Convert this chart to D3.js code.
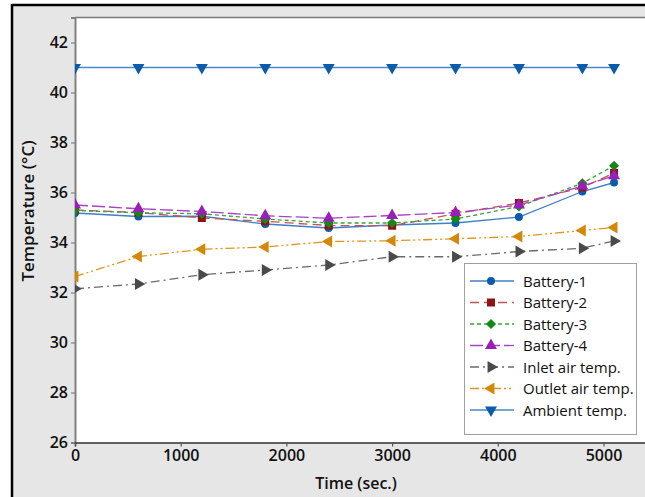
<!DOCTYPE html>
<html><head><meta charset="utf-8">
<script src="https://cdn.jsdelivr.net/npm/d3@7"></script>
<style>html,body{margin:0;padding:0;background:#fff;}svg{display:block;}</style>
</head><body>
<svg id="c" width="645" height="497"></svg>
<script>
const times = [0,600,1200,1800,2400,3000,3600,4200,4800,5100];
const battery1 = [35.18,35.04,35.05,34.74,34.58,34.70,34.78,35.02,36.04,36.40];
const battery2 = [35.30,35.20,34.98,34.85,34.68,34.67,35.15,35.58,36.20,36.78];
const battery3 = [35.28,35.19,35.15,34.94,34.78,34.78,34.94,35.44,36.37,37.07];
const battery4 = [35.50,35.35,35.24,35.07,34.97,35.08,35.20,35.50,36.26,36.67];
const inletAir = [32.15,32.34,32.71,32.90,33.10,33.43,33.43,33.64,33.77,34.06];
const outletAir = [32.64,33.44,33.73,33.82,34.04,34.07,34.15,34.24,34.48,34.60];
const ambient = [41,41,41,41,41,41,41,41,41,41];
const seriesNames = ["Battery-1","Battery-2","Battery-3","Battery-4","Inlet air temp.","Outlet air temp.","Ambient temp."];
const xTicks = [0,1000,2000,3000,4000,5000];
const yTicks = [26,28,30,32,34,36,38,40,42];

const styles = [
  {line:"#3f7fc4", mark:"#0b5cad", dash:null, sym:d3.symbolCircle, size:50, rot:0},
  {line:"#c25555", mark:"#8e1414", dash:"9,5", sym:d3.symbolSquare, size:64, rot:0},
  {line:"#3aa43a", mark:"#148a14", dash:"4,3", sym:d3.symbolSquare, size:52, rot:45},
  {line:"#a642c4", mark:"#9a1fb8", dash:"13,4", sym:d3.symbolTriangle, size:62, rot:0},
  {line:"#6a6a6a", mark:"#4a4a4a", dash:"9,4,2,4", sym:d3.symbolTriangle, size:62, rot:90},
  {line:"#e0951c", mark:"#d4880a", dash:"9,3,2,3,2,3", sym:d3.symbolTriangle, size:62, rot:-90},
  {line:"#4a88c8", mark:"#0b5cad", dash:null, sym:d3.symbolTriangle, size:62, rot:180}
];
const values = [battery1,battery2,battery3,battery4,inletAir,outletAir,ambient];

const svg = d3.select("#c");
const FONT = "'Open Sans', 'Noto Sans', sans-serif";
svg.append("rect").attr("x",12).attr("y",5).attr("width",640).attr("height",492).attr("fill","#e6e6e6");
svg.append("line").attr("x1",12).attr("x2",645).attr("y1",5).attr("y2",5).attr("stroke","#000").attr("stroke-width",2.5);
svg.append("line").attr("x1",12).attr("x2",12).attr("y1",4).attr("y2",497).attr("stroke","#000").attr("stroke-width",2.5);

const L=75, T=17.5, B=442.5;
const x = d3.scaleLinear().domain([0,5400]).range([L, L+5.4*105.7]);
const y = d3.scaleLinear().domain([26,43]).range([B, T]);

svg.append("rect").attr("x",L).attr("y",T).attr("width",x(5400)-L).attr("height",B-T).attr("fill","#fff");
svg.append("defs").append("clipPath").attr("id","clip").append("rect")
  .attr("x",L).attr("y",T).attr("width",x(5400)-L).attr("height",B-T);

svg.append("line").attr("x1",L).attr("x2",645).attr("y1",T).attr("y2",T).attr("stroke","#7a7a7a").attr("stroke-width",1.5);

const yAxis = svg.append("g").attr("transform",`translate(${L},0)`)
  .call(d3.axisLeft(y).tickValues(yTicks).tickSize(4).tickPadding(3).tickFormat(d3.format("d")));
yAxis.select(".domain").attr("stroke","#808080").attr("stroke-width",2);
yAxis.selectAll(".tick line").attr("stroke","#808080").attr("stroke-width",1.2);
yAxis.selectAll(".tick text").attr("font-family",FONT).attr("font-size",16).attr("font-weight",600).attr("fill","#111");

const xAxis = svg.append("g").attr("transform",`translate(0,${B})`)
  .call(d3.axisBottom(x).tickValues(xTicks).tickSize(4).tickPadding(3).tickFormat(d3.format("d")));
xAxis.select(".domain").attr("stroke","#333").attr("stroke-width",1.5);
xAxis.selectAll(".tick line").attr("stroke","#555").attr("stroke-width",1.2);
xAxis.selectAll(".tick text").attr("font-family",FONT).attr("font-size",16).attr("font-weight",600).attr("fill","#111");

svg.append("text").attr("x",356).attr("y",489).attr("text-anchor","middle")
  .attr("font-family",FONT).attr("font-size",16).attr("font-weight",600).attr("fill","#111").text("Time (sec.)");
svg.append("text").attr("transform","translate(34,211) rotate(-90)").attr("text-anchor","middle")
  .attr("font-family",FONT).attr("font-size",17).attr("font-weight",600).attr("fill","#111").text("Temperature (°C)");

const plot = svg.append("g").attr("clip-path","url(#clip)");
const lineGen = d3.line().x((d,i)=>x(times[i])).y(d=>y(d));
values.forEach((vals,k)=>{
  const s = styles[k];
  const g = plot.append("g");
  g.append("path").attr("d",lineGen(vals)).attr("fill","none").attr("stroke",s.line)
    .attr("stroke-width",1.3).attr("stroke-dasharray",s.dash);
  g.selectAll("path.m").data(vals).join("path").attr("class","m")
    .attr("d",d3.symbol().type(s.sym).size(s.size))
    .attr("transform",(d,i)=>`translate(${x(times[i])},${y(d)}) rotate(${s.rot})`)
    .attr("fill",s.mark);
});

const lg = svg.append("g");
lg.append("rect").attr("x",464.5).attr("y",263.5).attr("width",172).attr("height",171)
  .attr("fill","#fff").attr("stroke","#a0a0a0").attr("stroke-width",1);
seriesNames.forEach((name,k)=>{
  const s = styles[k];
  const cy = 281 + k*21.5;
  lg.append("line").attr("x1",470).attr("x2",514).attr("y1",cy).attr("y2",cy)
    .attr("stroke",s.line).attr("stroke-width",1.3).attr("stroke-dasharray",s.dash);
  lg.append("path").attr("d",d3.symbol().type(s.sym).size(s.size))
    .attr("transform",`translate(491,${cy}) rotate(${s.rot})`).attr("fill",s.mark);
  lg.append("text").attr("x",523).attr("y",cy+5.5).attr("font-family",FONT).attr("font-size",15)
    .attr("fill","#111").text(name);
});
</script>
</body></html>
